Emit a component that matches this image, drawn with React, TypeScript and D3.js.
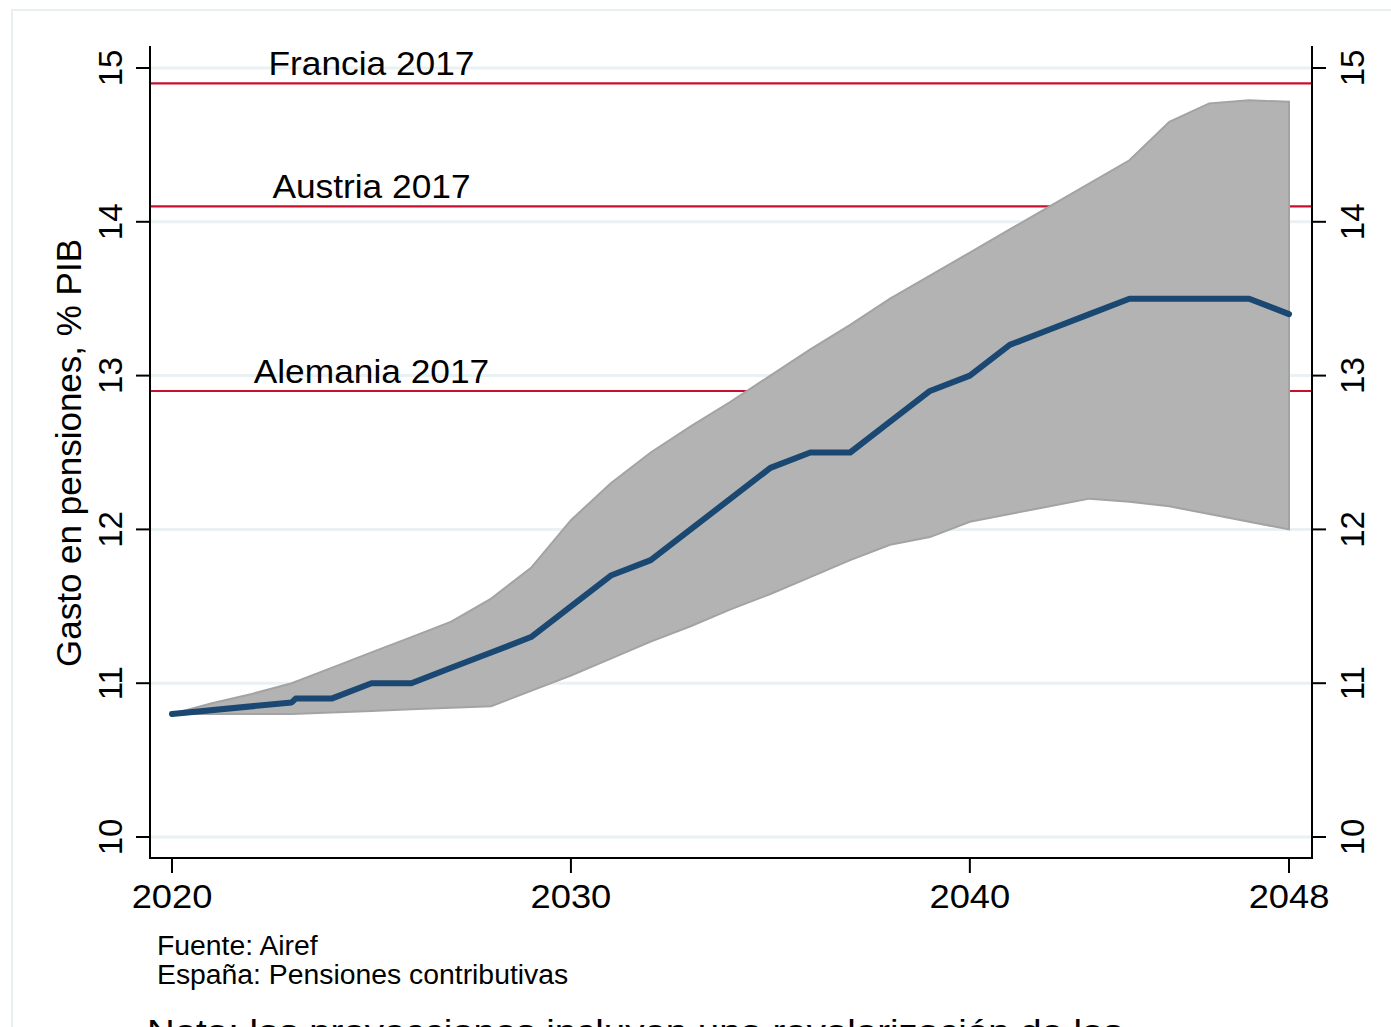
import React from "react";
import * as d3 from "d3";

const years = [2020, 2021, 2022, 2023, 2024, 2025, 2026, 2027, 2028, 2029, 2030, 2031, 2032, 2033, 2034, 2035, 2036, 2037, 2038, 2039, 2040, 2041, 2042, 2043, 2044, 2045, 2046, 2047, 2048];
const upper = [10.8, 10.87, 10.93, 11.0, 11.1, 11.2, 11.3, 11.4, 11.55, 11.75, 12.06, 12.3, 12.5, 12.67, 12.83, 13.0, 13.17, 13.33, 13.5, 13.65, 13.8, 13.95, 14.1, 14.25, 14.4, 14.65, 14.77, 14.79, 14.78];
const lower = [10.8, 10.8, 10.8, 10.8, 10.81, 10.82, 10.83, 10.84, 10.85, 10.95, 11.05, 11.16, 11.27, 11.37, 11.48, 11.58, 11.69, 11.8, 11.9, 11.95, 12.05, 12.1, 12.15, 12.2, 12.18, 12.15, 12.1, 12.05, 12.0];
const centralYears = [2020, 2023, 2023.1, 2024, 2025, 2026, 2027, 2028, 2029, 2030, 2031, 2032, 2033, 2034, 2035, 2036, 2037, 2038, 2039, 2040, 2041, 2042, 2043, 2044, 2045, 2046, 2047, 2048];
const central = [10.8, 10.875, 10.9, 10.9, 11.0, 11.0, 11.1, 11.2, 11.3, 11.5, 11.7, 11.8, 12.0, 12.2, 12.4, 12.5, 12.5, 12.7, 12.9, 13.0, 13.2, 13.3, 13.4, 13.5, 13.5, 13.5, 13.5, 13.4];
const refNames = ["Francia 2017", "Austria 2017", "Alemania 2017"];
const refValues = [14.9, 14.1, 12.9];
const yTicks = [10, 11, 12, 13, 14, 15];
const xTicks = [2020, 2030, 2040, 2048];

export default function App() {
  const W = 1391, H = 1027;
  const left = 150, right = 1312, top = 46, bottom = 858;
  const x = d3.scaleLinear().domain([2020, 2048]).range([172, 1289]);
  const y = d3.scaleLinear().domain([10, 15]).range([837, 68]);
  const font = "'Liberation Sans', Arial, Helvetica, sans-serif";

  const band = d3
    .area<number>()
    .x((_, i) => x(years[i]))
    .y0((_, i) => y(lower[i]))
    .y1((_, i) => y(upper[i]));
  const line = d3
    .line<number>()
    .x((_, i) => x(centralYears[i]))
    .y((d) => y(d));

  return (
    <div style={{ position: "absolute", left: 0, top: 0 }}>
      <svg width={W} height={H} style={{ display: "block", background: "#fff" }}>
        <rect x={12} y={10} width={1500} height={1200} fill="#fff" stroke="#e8eff1" strokeWidth={2} />
        {yTicks.map((t) => (
          <line key={"g" + t} x1={left} x2={right} y1={y(t)} y2={y(t)} stroke="#eaf1f3" strokeWidth={3} />
        ))}
        {refValues.map((v, i) => (
          <g key={"r" + i}>
            <line x1={left} x2={right} y1={y(v)} y2={y(v)} stroke="#c8102e" strokeWidth={2.2} />
            <text
              transform={`translate(${x(2025)},${y(v) - 8}) scale(1.07,1)`}
              textAnchor="middle"
              fontFamily={font}
              fontSize={33}
              fill="#000"
            >
              {refNames[i]}
            </text>
          </g>
        ))}
        <path d={band(upper) || ""} fill="#b3b3b3" stroke="#a3a3a3" strokeWidth={2} />
        <path
          d={line(central) || ""}
          fill="none"
          stroke="#1a4872"
          strokeWidth={6}
          strokeLinecap="round"
          strokeLinejoin="round"
        />
        {/* axes */}
        <line x1={left} x2={left} y1={top} y2={bottom + 1} stroke="#000" strokeWidth={2} />
        <line x1={right} x2={right} y1={top} y2={bottom + 1} stroke="#000" strokeWidth={2} />
        <line x1={left} x2={right + 1} y1={bottom} y2={bottom} stroke="#000" strokeWidth={2} />
        {yTicks.map((t) => (
          <g key={"yt" + t}>
            <line x1={left - 14} x2={left} y1={y(t)} y2={y(t)} stroke="#000" strokeWidth={2} />
            <line x1={right} x2={right + 14} y1={y(t)} y2={y(t)} stroke="#000" strokeWidth={2} />
            <text
              transform={`translate(122,${y(t)}) rotate(-90)`}
              textAnchor="middle"
              fontFamily={font}
              fontSize={33}
            >
              {t}
            </text>
            <text
              transform={`translate(1364,${y(t)}) rotate(-90)`}
              textAnchor="middle"
              fontFamily={font}
              fontSize={33}
            >
              {t}
            </text>
          </g>
        ))}
        {xTicks.map((t) => (
          <g key={"xt" + t}>
            <line x1={x(t)} x2={x(t)} y1={bottom} y2={bottom + 15} stroke="#000" strokeWidth={2} />
            <text
              transform={`translate(${x(t)},908) scale(1.1,1)`}
              textAnchor="middle"
              fontFamily={font}
              fontSize={33}
            >
              {t}
            </text>
          </g>
        ))}
        <text
          transform={`translate(81,453) rotate(-90)`}
          textAnchor="middle"
          fontFamily={font}
          fontSize={35}
        >
          Gasto en pensiones, % PIB
        </text>
        <text transform="translate(157,955) scale(1.05,1)" fontFamily={font} fontSize={27}>
          Fuente: Airef
        </text>
        <text transform="translate(157,984) scale(1.05,1)" fontFamily={font} fontSize={27}>
          España: Pensiones contributivas
        </text>
        <text transform="translate(147,1043) scale(1.13,1)" fontFamily={font} fontSize={34}>
          Nota: las proyecciones incluyen una revalorización de las
        </text>
      </svg>
    </div>
  );
}
